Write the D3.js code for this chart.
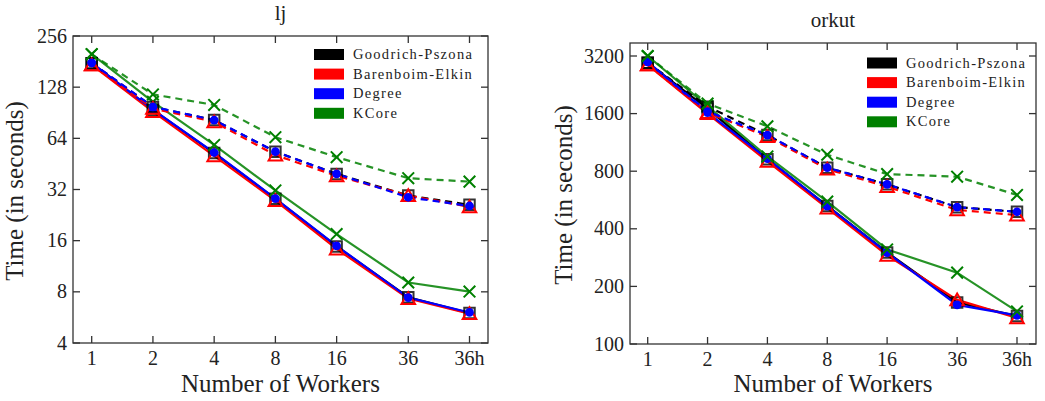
<!DOCTYPE html>
<html><head><meta charset="utf-8">
<script src="https://cdn.jsdelivr.net/npm/d3@7"></script>
<style>
body{margin:0;background:#fff}
svg{display:block}
svg text{font-family:'Liberation Serif', 'Times New Roman', serif !important;}
</style>
</head><body>
<svg id="c" width="1045" height="401"></svg>
<script>
// ---- data ----
const workers = [1, 2, 4, 8, 16, 36, 72];
const workerLabels = ["1", "2", "4", "8", "16", "36", "36h"];
const seriesNames = ["Goodrich-Pszona", "Barenboim-Elkin", "Degree", "KCore"];
const seriesColors = ["#000000", "#ff0000", "#0000ff", "#008000"];
const seriesMarkers = ["square", "triangle", "circle", "cross"];

const ljTicks = [4, 8, 16, 32, 64, 128, 256];
const ljSolidGP = [177, 94, 52.4, 28.2, 14.8, 7.44, 6.0];
const ljSolidBE = [173, 92, 50.5, 27.5, 14.3, 7.3, 5.95];
const ljSolidDeg = [178, 94.5, 52.8, 28.3, 14.9, 7.4, 6.05];
const ljSolidKC = [200, 105, 58.5, 31.6, 17.5, 9.08, 8.03];
const ljDashGP = [177, 98, 82, 53.4, 39.5, 29.5, 26];
const ljDashBE = [173, 96, 80, 51, 38.5, 29.5, 25.3];
const ljDashDeg = [178, 98, 82, 53.4, 39.5, 28.8, 25.6];
const ljDashKC = [200, 116, 100.6, 65, 49.6, 37.3, 35.6];

const orkutTicks = [100, 200, 400, 800, 1600, 3200];
const orkutSolidGP = [2950, 1700, 925, 527, 301, 165, 140];
const orkutSolidBE = [2875, 1600, 900, 513, 291, 170, 137];
const orkutSolidDeg = [2980, 1620, 930, 525, 300, 160, 141];
const orkutSolidKC = [3200, 1750, 955, 555, 312, 236, 148];
const orkutDashGP = [2950, 1740, 1236, 834, 683, 519, 491];
const orkutDashBE = [2875, 1620, 1213, 820, 664, 502, 472];
const orkutDashDeg = [2980, 1640, 1236, 834, 683, 519, 491];
const orkutDashKC = [3200, 1807, 1373, 975, 773, 749, 601];

// ---- drawing ----
const svg = d3.select("#c");
const FONT = "'Liberation Serif'";
const AX = "#333";
const TXT = "#222";

function txt(g, s, size) {
  return g.append("text").attr("font-family", "Liberation Serif").style("font-family", FONT)
    .style("font-size", size + "px").attr("fill", TXT).text(s);
}

function panel(cfg) {
  const g = svg.append("g");
  const {box} = cfg;
  const x = d3.scaleLog().base(2).domain([1, 72]).range(cfg.xr);
  const y = d3.scaleLog().base(2).domain(cfg.yd).range(cfg.yr);

  const line = d3.line().x((d, i) => x(workers[i])).y(d => y(d));
  const solid = cfg.solid, dashed = cfg.dashed;
  const draw = (sets, dash) => {
    sets.forEach((vals, si) => {
      g.append("path").datum(vals).attr("d", line)
        .attr("fill", "none").attr("stroke", seriesColors[si])
        .attr("stroke-width", 2.2)
        .attr("stroke-dasharray", dash ? "7,5" : null)
        .attr("stroke-opacity", si === 3 ? 0.85 : 1);
    });
  };
  draw(solid, false);
  draw(dashed, true);

  const sym = {
    square: d3.symbol().type(d3.symbolSquare).size(110),
    triangle: d3.symbol().type(d3.symbolTriangle).size(80),
    circle: d3.symbol().type(d3.symbolCircle).size(60),
    cross: d3.symbol().type(d3.symbolTimes).size(90)
  };
  [solid, dashed].forEach(sets => {
    sets.forEach((vals, si) => {
      const m = seriesMarkers[si];
      g.selectAll(null).data(vals).enter().append("path")
        .attr("d", sym[m])
        .attr("transform", (d, i) => `translate(${x(workers[i])},${y(d) + (m === "triangle" ? 1.5 : 0)})`)
        .attr("fill", m === "circle" ? seriesColors[si] : "none")
        .attr("stroke", seriesColors[si])
        .attr("stroke-width", m === "circle" ? 0 : 2)
        .attr("stroke-opacity", m === "square" ? 0.8 : 1);
    });
  });

  g.append("rect").attr("x", box[0]).attr("y", box[1])
    .attr("width", box[2] - box[0]).attr("height", box[3] - box[1])
    .attr("fill", "none").attr("stroke", AX).attr("stroke-width", 1.3);

  const tl = 7;
  workers.forEach((w, i) => {
    const xx = x(w);
    g.append("line").attr("x1", xx).attr("x2", xx).attr("y1", box[3]).attr("y2", box[3] - tl).attr("stroke", AX).attr("stroke-width", 1.3);
    g.append("line").attr("x1", xx).attr("x2", xx).attr("y1", box[1]).attr("y2", box[1] + tl).attr("stroke", AX).attr("stroke-width", 1.3);
    txt(g, workerLabels[i], 20).attr("x", xx).attr("y", box[3] + 22).attr("text-anchor", "middle");
  });
  cfg.ticks.forEach(t => {
    const yy = y(t);
    g.append("line").attr("x1", box[0]).attr("x2", box[0] + tl).attr("y1", yy).attr("y2", yy).attr("stroke", AX).attr("stroke-width", 1.3);
    g.append("line").attr("x1", box[2]).attr("x2", box[2] - tl).attr("y1", yy).attr("y2", yy).attr("stroke", AX).attr("stroke-width", 1.3);
    txt(g, t, 20).attr("x", box[0] - 6).attr("y", yy + 6.5).attr("text-anchor", "end");
  });

  txt(g, cfg.title, 21).attr("x", (box[0] + box[2]) / 2).attr("y", cfg.titleY).attr("text-anchor", "middle");
  txt(g, "Number of Workers", 25).attr("x", (box[0] + box[2]) / 2).attr("y", 392).attr("text-anchor", "middle");
  txt(g, "Time (in seconds)", 25).attr("transform", `translate(${cfg.ylabX},${cfg.ylabY}) rotate(-90)`).attr("text-anchor", "middle");

  seriesNames.forEach((n, i) => {
    const ly = cfg.leg[1] + i * 19.6;
    g.append("rect").attr("x", cfg.leg[0]).attr("y", ly - 5.5).attr("width", 30).attr("height", 11)
      .attr("fill", seriesColors[i]);
    txt(g, n, 14.5).attr("x", cfg.leg[0] + 39).attr("y", ly + 4.5).style("letter-spacing", "1.3px");
  });
}

panel({
  box: [73, 36, 488, 343], xr: [91.7, 469.5], yd: [4, 256], yr: [343, 36],
  ticks: ljTicks, title: "lj", titleY: 20, ylabX: 23, ylabY: 191, leg: [314, 54.5],
  solid: [ljSolidGP, ljSolidBE, ljSolidDeg, ljSolidKC],
  dashed: [ljDashGP, ljDashBE, ljDashDeg, ljDashKC]
});
panel({
  box: [630, 43, 1036, 344], xr: [647.7, 1017], yd: [100, 3200], yr: [344, 56],
  ticks: orkutTicks, title: "orkut", titleY: 27, ylabX: 572, ylabY: 195, leg: [867, 63],
  solid: [orkutSolidGP, orkutSolidBE, orkutSolidDeg, orkutSolidKC],
  dashed: [orkutDashGP, orkutDashBE, orkutDashDeg, orkutDashKC]
});
</script>
</body></html>
